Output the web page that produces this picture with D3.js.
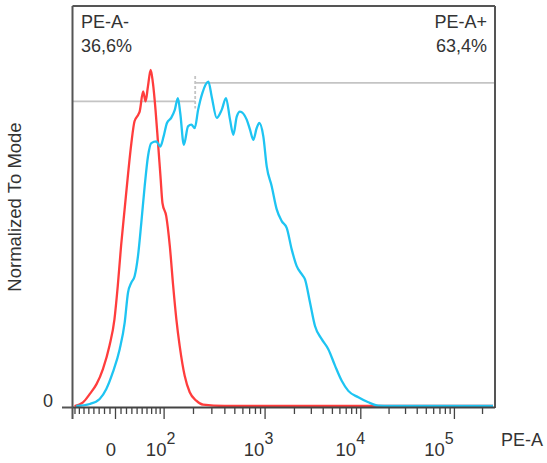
<!DOCTYPE html>
<html><head><meta charset="utf-8">
<script src="https://cdn.jsdelivr.net/npm/d3@7"></script>
<style>
body{margin:0;background:#fff}
svg{display:block}
text{font-family:"Liberation Sans",Arial,sans-serif;fill:#333}
</style>
</head><body>
<svg id="c" width="547" height="463"></svg>
<script>
// ---------- data (PE-A intensity, % of mode) ----------
const redX = [-80,-61,-47,-34,-22,-10,-1,5,11,18,24,30,36,43,46,53,58,63,69,74,80,86,92,97,107,117,127,137,148,166,186,215,250,400,262144];
const redY = [0,1.1,3.6,6.5,11.0,17.9,25.8,35.7,47.6,59.4,69.3,78.2,84.7,86.6,87.6,93.6,90.6,95.0,100,96.1,88.1,78.2,68.3,60.4,56.5,47.6,35.7,25.8,17.9,9.0,4.1,1.6,0.4,0,0];
const blueX = [-76,-47,-28,-16,-4,8.5,17.6,23.7,29.9,36.3,42.7,49.3,56.2,63.2,70.4,81.8,91.5,100,109,121,132,142,150,163,179,193,208,224,246,281,302,338,377,415,454,489,528,568,662,714,770,833,885,971,1051,1181,1329,1495,1683,1896,2137,2409,2607,2941,3318,3902,4581,5392,6348,7457,9524,12170,15550,20730,262144];
const blueY = [0,0.6,2.1,5.0,10.0,16.9,24.8,33.7,36.7,38.7,44.6,54.5,65.4,74.3,78.2,78.7,77.2,80.2,84.2,85.7,88.1,91.6,87.1,77.7,83.2,83.7,82.7,88.1,93.1,96.5,92.1,85.7,88.1,91.6,85.2,80.7,86.1,87.6,85.2,82.2,79.2,82.7,84.2,80.2,71.3,65.4,58.5,55.0,53.0,46.6,41.6,39.2,37.7,30.8,23.8,19.9,16.9,12.0,7.5,4.5,2.6,1.1,0.1,0,0];
const majorTicks = [0, 100, 1000, 10000, 100000];
const majorBase = ["0", "10", "10", "10", "10"];
const majorExp = ["", "2", "3", "4", "5"];
const minorTicks = [-90,-80,-70,-60,-50,-40,-30,-20,-10,10,20,30,40,50,60,70,80,90,
  200,300,400,500,600,700,800,900,2000,3000,4000,5000,6000,7000,8000,9000,
  20000,30000,40000,50000,60000,70000,80000,90000,200000];
const gateSplit = 210;
const gateNames = ["PE-A-", "PE-A+"];
const gatePcts = ["36,6%", "63,4%"];
const gateLevels = [90.6, 96.1];
const yMax = 119;

// ---------- logicle transform (T, W, M, A) ----------
function makeLogicle(T, W, M, A) {
  const w = W / (M + A), x2 = A / (M + A), x1 = x2 + w, x0 = x2 + 2 * w;
  const b = (M + A) * Math.LN10;
  let lo = 1e-9, hi = b;
  for (let i = 0; i < 200; i++) {
    const m = (lo + hi) / 2;
    const g = 2 * (Math.log(m) - Math.log(b)) + w * (b + m);
    if (g > 0) hi = m; else lo = m;
  }
  const d = (lo + hi) / 2;
  const ca = Math.exp(x0 * (b + d));
  const mfa = Math.exp(b * x1) - ca / Math.exp(d * x1);
  const a = T / ((Math.exp(b) - mfa) - ca / Math.exp(d));
  const c = ca * a, f = -mfa * a;
  function inv(s) {
    const neg = s < x1;
    const t = neg ? 2 * x1 - s : s;
    const v = a * Math.exp(b * t) - c * Math.exp(-d * t) + f;
    return neg ? -v : v;
  }
  return function (v) {
    let l = -2, h = 2;
    for (let i = 0; i < 80; i++) {
      const m = (l + h) / 2;
      if (inv(m) < v) l = m; else h = m;
    }
    return (l + h) / 2;
  };
}
const logicle = makeLogicle(262144, 0.45, 4.5, 0);

// ---------- layout ----------
const L = 73, R = 493, FR = 495, T0 = 6, B0 = 406;
const svg = d3.select("#c");
const x = d3.scaleLinear().domain([0, 1]).range([L, R]);
const y = d3.scaleLinear().domain([0, yMax]).range([B0, T0]);
const X = v => x(logicle(v));

svg.append("clipPath").attr("id", "pc").append("rect")
  .attr("x", L).attr("y", T0).attr("width", FR - L).attr("height", B0 - T0 + 2);

// gates
const gate = svg.append("g").attr("stroke", "#c4c4c4").attr("stroke-width", 1.8).attr("fill", "none");
gate.append("line").attr("x1", L).attr("x2", X(gateSplit)).attr("y1", y(gateLevels[0])).attr("y2", y(gateLevels[0]));
gate.append("line").attr("x1", X(gateSplit)).attr("x2", FR).attr("y1", y(gateLevels[1])).attr("y2", y(gateLevels[1]));
gate.append("line").attr("x1", X(gateSplit)).attr("x2", X(gateSplit))
  .attr("y1", y(gateLevels[1]) - 7).attr("y2", y(gateLevels[0]) + 7)
  .attr("stroke-dasharray", "3,2");

// curves
const line = d3.line().x(d => X(d[0])).y(d => y(d[1])).curve(d3.curveMonotoneX);
const plot = svg.append("g").attr("clip-path", "url(#pc)");
plot.append("path").datum(redX.map((v, i) => [v, redY[i]]))
  .attr("d", line).attr("fill", "none").attr("stroke", "#ff3d3d").attr("stroke-width", 2.3).attr("stroke-linejoin", "round");
plot.append("path").datum(blueX.map((v, i) => [v, blueY[i]]))
  .attr("d", line).attr("fill", "none").attr("stroke", "#1ec4f2").attr("stroke-width", 2.3).attr("stroke-linejoin", "round");

// frame
const fr = svg.append("g").attr("stroke", "#555").attr("stroke-width", 2).attr("fill", "none");
fr.append("line").attr("x1", L - 0.5).attr("x2", L - 0.5).attr("y1", T0).attr("y2", 419);
fr.append("line").attr("x1", L - 0.5).attr("x2", FR).attr("y1", T0).attr("y2", T0);
fr.append("line").attr("x1", FR).attr("x2", FR).attr("y1", T0).attr("y2", 408);
fr.append("line").attr("x1", L - 0.5).attr("x2", FR).attr("y1", 407.5).attr("y2", 407.5).attr("stroke", "#444");
fr.append("line").attr("x1", 62).attr("x2", L).attr("y1", 407.5).attr("y2", 407.5);

// x ticks
const inRange = v => { const s = logicle(v); return s >= 0 && s <= 1; };
const minorAxis = d3.axisBottom(x).tickValues(minorTicks.filter(inRange).map(logicle)).tickSize(6).tickFormat("");
const majorAxis = d3.axisBottom(x).tickValues(majorTicks.map(logicle)).tickSize(11).tickFormat("");
[minorAxis, majorAxis].forEach(ax => {
  const g = svg.append("g").attr("transform", "translate(0,408)").call(ax);
  g.select(".domain").remove();
  g.selectAll(".tick line").attr("stroke", "#444").attr("stroke-width", 1.3);
});

// x tick labels
const labelNudge = [-4, -3, -6, -10, -15];
majorTicks.forEach((v, i) => {
  const t = svg.append("text").attr("x", X(v) + labelNudge[i]).attr("y", 456)
    .attr("text-anchor", "middle").attr("font-size", 18.5);
  t.append("tspan").text(majorBase[i]);
  if (majorExp[i]) t.append("tspan").attr("dy", -12).attr("font-size", 16).text(majorExp[i]);
});
svg.append("text").attr("x", 501).attr("y", 446).attr("font-size", 18).text("PE-A");

// y axis labels
svg.append("text").attr("x", 48).attr("y", 407).attr("text-anchor", "middle").attr("font-size", 18).text("0");
svg.append("text").attr("transform", "translate(21,207) rotate(-90)").attr("text-anchor", "middle")
  .attr("font-size", 18.5).text("Normalized To Mode");

// gate labels
svg.append("text").attr("x", 81).attr("y", 28).attr("font-size", 18).text(gateNames[0]);
svg.append("text").attr("x", 81).attr("y", 52).attr("font-size", 18).text(gatePcts[0]);
svg.append("text").attr("x", 487).attr("y", 28).attr("text-anchor", "end").attr("font-size", 18).text(gateNames[1]);
svg.append("text").attr("x", 487).attr("y", 52).attr("text-anchor", "end").attr("font-size", 18).text(gatePcts[1]);
</script>
</body></html>
